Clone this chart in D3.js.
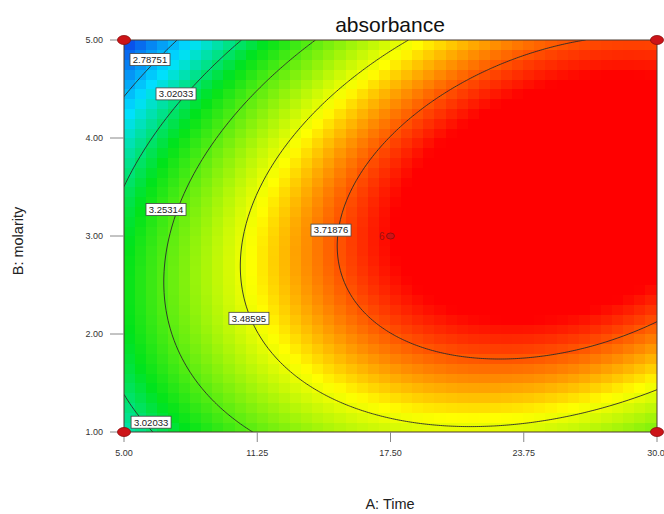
<!DOCTYPE html>
<html>
<head>
<meta charset="utf-8">
<script src="https://cdnjs.cloudflare.com/ajax/libs/d3/7.8.5/d3.min.js"></script>
<style>
body { margin: 0; background: #fff; }
svg { display: block; font-family: Arial, "Liberation Sans", sans-serif; }
</style>
</head>
<body>
<script>
// Chart size and plot area
var width = 664;
var height = 514;
var plot = {left: 124, top: 40, right: 657, bottom: 432};

// Axis ticks
var xTicks = [5, 11.25, 17.5, 23.75, 30];
var xTickLabels = ["5.00", "11.25", "17.50", "23.75", "30.0"];
var yTicks = [1, 2, 3, 4, 5];
var yTickLabels = ["1.00", "2.00", "3.00", "4.00", "5.00"];

// Fitted quadratic model for sqrt(absorbance), coded units (A, B from -1 to 1):
// intercept, A, B, AB, A^2, B^2
var coefs = [1.9531, 0.1071, 0.00135, 0.05575, -0.08809, -0.09799];

// Contour levels and their labels
var levels = [2.78751, 3.02033, 3.25314, 3.48595, 3.71876];
var labelText = ["2.78751", "3.02033", "3.25314", "3.48595", "3.71876", "3.02033"];
var labelA = [6.22, 7.44, 6.97, 10.86, 14.71, 6.27];
var labelB = [4.80, 4.45, 3.27, 2.16, 3.06, 1.10];

// Design points
var designA = [5, 30, 5, 30, 17.5];
var designB = [5, 5, 1, 1, 3];
var designRuns = [1, 1, 1, 1, 6];

// Colour ramp
var colorStops = [2.58, 2.86, 3.12, 3.52, 3.82];
var colorRamp = ["#0a3ae8", "#00e0ff", "#00e31a", "#ffff00", "#ff0000"];

function model(a, b) {
    var q = coefs[0] + coefs[1] * a + coefs[2] * b + coefs[3] * a * b
        + coefs[4] * a * a + coefs[5] * b * b;
    return q * q;
}

var svg = d3.select('body')
    .append('svg')
    .attr('width', width)
    .attr('height', height);

var xScale = d3.scaleLinear().domain([5, 30]).range([plot.left, plot.right]);
var yScale = d3.scaleLinear().domain([1, 5]).range([plot.bottom, plot.top]);
var colorScale = d3.scaleLinear().domain(colorStops).range(colorRamp).clamp(true);

// coded units from real units
var codeA = d3.scaleLinear().domain([5, 30]).range([-1, 1]);
var codeB = d3.scaleLinear().domain([1, 5]).range([-1, 1]);

svg.append('clipPath')
    .attr('id', 'plotClip')
    .append('rect')
    .attr('x', plot.left)
    .attr('y', plot.top)
    .attr('width', plot.right - plot.left)
    .attr('height', plot.bottom - plot.top);

// Blocky colour cells, like the original
var nCol = 48, nRow = 40;
var cells = [];
for (var j = 0; j < nRow; j++) {
    for (var i = 0; i < nCol; i++) {
        cells.push({i: i, j: j});
    }
}
var cellA = d3.scaleLinear().domain([0, nCol]).range([5, 30]);
var cellB = d3.scaleLinear().domain([0, nRow]).range([1, 5]);

svg.append('g')
    .attr('shape-rendering', 'crispEdges')
    .selectAll('rect')
    .data(cells)
    .enter()
    .append('rect')
    .attr('x', function(d) { return Math.floor(xScale(cellA(d.i))); })
    .attr('y', function(d) { return Math.floor(yScale(cellB(d.j + 1))); })
    .attr('width', function(d) { return Math.ceil(xScale(cellA(d.i + 1))) - Math.floor(xScale(cellA(d.i))); })
    .attr('height', function(d) { return Math.ceil(yScale(cellB(d.j))) - Math.floor(yScale(cellB(d.j + 1))); })
    .attr('fill', function(d) {
        var a = codeA(cellA(d.i + 0.5));
        var b = codeB(cellB(d.j + 0.5));
        return colorScale(model(a, b));
    });

// Contour lines
var nx = 267, ny = 197;
var grid = new Array(nx * ny);
for (var gy = 0; gy < ny; gy++) {
    var b = 1 - 2 * gy / (ny - 1);
    for (var gx = 0; gx < nx; gx++) {
        var a = -1 + 2 * gx / (nx - 1);
        grid[gy * nx + gx] = model(a, b);
    }
}
var contours = d3.contours().size([nx, ny]).thresholds(levels)(grid);

var project = d3.geoTransform({
    point: function(x, y) {
        this.stream.point(
            plot.left + (x - 0.5) / (nx - 1) * (plot.right - plot.left),
            plot.top + (y - 0.5) / (ny - 1) * (plot.bottom - plot.top));
    }
});
var path = d3.geoPath(project);

svg.append('g')
    .attr('clip-path', 'url(#plotClip)')
    .selectAll('path')
    .data(contours)
    .enter()
    .append('path')
    .attr('d', path)
    .attr('fill', 'none')
    .attr('stroke', '#2a2a2a')
    .attr('stroke-width', 0.9);

// Frame
svg.append('rect')
    .attr('x', plot.left)
    .attr('y', plot.top)
    .attr('width', plot.right - plot.left)
    .attr('height', plot.bottom - plot.top)
    .attr('fill', 'none')
    .attr('stroke', '#4a3a30')
    .attr('stroke-width', 1);

// Contour labels
var labels = svg.selectAll('.clabel')
    .data(labelText)
    .enter()
    .append('g')
    .attr('class', 'clabel')
    .attr('transform', function(d, k) {
        return 'translate(' + xScale(labelA[k]) + ',' + yScale(labelB[k]) + ')';
    });
labels.append('rect')
    .attr('x', -20)
    .attr('y', -6)
    .attr('width', 40)
    .attr('height', 12)
    .attr('fill', '#fff')
    .attr('stroke', '#444')
    .attr('stroke-width', 0.8);
labels.append('text')
    .attr('text-anchor', 'middle')
    .attr('dy', '0.35em')
    .attr('font-size', 9.5)
    .attr('fill', '#222')
    .text(function(d) { return d; });

// Axes ticks
var xAxisG = svg.append('g');
xAxisG.selectAll('line')
    .data(xTicks)
    .enter()
    .append('line')
    .attr('x1', function(d) { return xScale(d); })
    .attr('x2', function(d) { return xScale(d); })
    .attr('y1', plot.bottom)
    .attr('y2', plot.bottom + 10)
    .attr('stroke', '#888');
xAxisG.selectAll('text')
    .data(xTicks)
    .enter()
    .append('text')
    .attr('x', function(d, k) { return xScale(d) - (k === xTicks.length - 1 ? 1 : 0); })
    .attr('y', plot.bottom + 24)
    .attr('text-anchor', 'middle')
    .attr('font-size', 9)
    .attr('fill', '#333')
    .text(function(d, k) { return xTickLabels[k]; });

var yAxisG = svg.append('g');
yAxisG.selectAll('line')
    .data(yTicks)
    .enter()
    .append('line')
    .attr('x1', plot.left - 14)
    .attr('x2', plot.left)
    .attr('y1', function(d) { return yScale(d); })
    .attr('y2', function(d) { return yScale(d); })
    .attr('stroke', '#888');
yAxisG.selectAll('text')
    .data(yTicks)
    .enter()
    .append('text')
    .attr('x', plot.left - 21)
    .attr('y', function(d) { return yScale(d); })
    .attr('dy', '0.35em')
    .attr('text-anchor', 'end')
    .attr('font-size', 9)
    .attr('fill', '#333')
    .text(function(d, k) { return yTickLabels[k]; });

// Design points
svg.selectAll('.dpt')
    .data(designA)
    .enter()
    .append('ellipse')
    .attr('class', 'dpt')
    .attr('cx', function(d) { return xScale(d); })
    .attr('cy', function(d, k) { return yScale(designB[k]); })
    .attr('rx', function(d, k) { return designRuns[k] > 1 ? 4 : 6.5; })
    .attr('ry', function(d, k) { return designRuns[k] > 1 ? 3 : 4.5; })
    .attr('fill', '#cc1418')
    .attr('stroke', '#8a0c0c')
    .attr('stroke-width', 0.8);

svg.selectAll('.dcount')
    .data(designA.filter(function(d, k) { return designRuns[k] > 1; }))
    .enter()
    .append('text')
    .attr('class', 'dcount')
    .attr('x', function(d) { return xScale(d) - 6; })
    .attr('y', yScale(3))
    .attr('dy', '0.35em')
    .attr('text-anchor', 'end')
    .attr('font-size', 10)
    .attr('fill', '#a01010')
    .text(function() { return designRuns[designRuns.length - 1]; });

// Titles
svg.append('text')
    .attr('x', 390)
    .attr('y', 32)
    .attr('text-anchor', 'middle')
    .attr('font-size', 21)
    .attr('fill', '#111')
    .text('absorbance');

svg.append('text')
    .attr('x', 390)
    .attr('y', 509)
    .attr('text-anchor', 'middle')
    .attr('font-size', 14.5)
    .attr('fill', '#222')
    .text('A: Time');

svg.append('text')
    .attr('x', -241)
    .attr('y', 23)
    .attr('text-anchor', 'middle')
    .attr('font-size', 14.5)
    .attr('fill', '#222')
    .attr('transform', 'rotate(-90)')
    .text('B: molarity');
</script>
</body>
</html>
